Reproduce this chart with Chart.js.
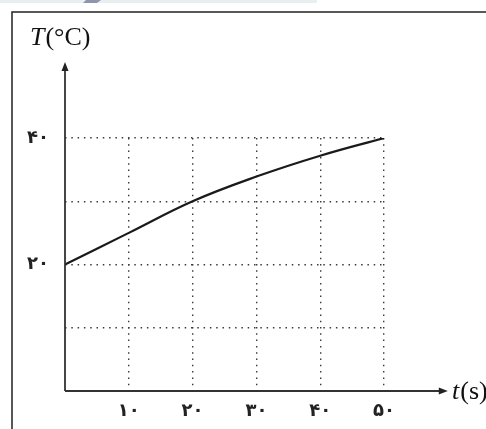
<!DOCTYPE html>
<html>
<head>
<meta charset="utf-8">
<script src="https://cdn.jsdelivr.net/npm/chart.js@4/dist/chart.umd.min.js"></script>
<style>
html, body { margin: 0; padding: 0; background: #fff; }
#wrap { position: relative; width: 486px; height: 429px; }
</style>
</head>
<body>
<div id="wrap"><canvas id="tempChart" width="486" height="429"></canvas></div>
<script>
// data
const timeValues = [0, 10, 20, 30, 40, 50];
const tempValues = [20, 25, 30, 33.9, 37.2, 40];
const xTickValues = [10, 20, 30, 40, 50];
const yLabelValues = [20, 40];
const xAxisEnd = 60;   // arrow tip, in t units
const yAxisEnd = 52;   // arrow tip, in T units
const xTitle = ['t', '(s)'];
const yTitle = ['T', '(°C)'];

const faDigits = '۰۱۲۳۴۵۶۷۸۹';
const toFa = n => String(n).replace(/[0-9]/g, d => faDigits[d]);

const gridColor = ctx => (ctx.tick && ctx.tick.value === 0) ? 'rgba(0,0,0,0)' : '#3a3a3a';

const axesPlugin = {
    id: 'axesPlugin',
    beforeDraw(chart) {
        const ctx = chart.ctx;
        ctx.save();
        // strip of the page above the figure
        ctx.fillStyle = '#e9eef0';
        ctx.fillRect(0, 0, 317, 3);
        ctx.fillStyle = '#8d96aa';
        ctx.beginPath();
        ctx.moveTo(86, 0); ctx.lineTo(101, 0); ctx.lineTo(97, 3); ctx.lineTo(83, 3);
        ctx.fill();
        // figure frame
        ctx.strokeStyle = '#222';
        ctx.lineWidth = 1.5;
        ctx.beginPath();
        ctx.moveTo(12, 429); ctx.lineTo(12, 12); ctx.lineTo(486, 12);
        ctx.stroke();
        ctx.restore();
    },
    afterDatasetsDraw(chart) {
        const ctx = chart.ctx;
        const xs = chart.scales.x, ys = chart.scales.y;
        const x0 = xs.getPixelForValue(0), y0 = ys.getPixelForValue(0);
        const xTip = xs.getPixelForValue(xAxisEnd), yTip = ys.getPixelForValue(yAxisEnd);
        ctx.save();
        ctx.strokeStyle = '#333';
        ctx.fillStyle = '#222';
        ctx.lineWidth = 1.8;
        ctx.beginPath();
        ctx.moveTo(x0, y0); ctx.lineTo(xTip - 6, y0);
        ctx.moveTo(x0, y0); ctx.lineTo(x0, yTip + 6);
        ctx.stroke();
        ctx.beginPath();
        ctx.moveTo(xTip, y0); ctx.lineTo(xTip - 9, y0 - 3.5); ctx.lineTo(xTip - 9, y0 + 3.5);
        ctx.closePath();
        ctx.moveTo(x0, yTip); ctx.lineTo(x0 - 3.5, yTip + 9); ctx.lineTo(x0 + 3.5, yTip + 9);
        ctx.closePath();
        ctx.fill();

        // axis titles
        const drawTitle = (parts, x, y) => {
            ctx.textAlign = 'left';
            ctx.textBaseline = 'alphabetic';
            ctx.fillStyle = '#111';
            ctx.font = 'italic 26px "Liberation Serif", "DejaVu Serif", serif';
            ctx.fillText(parts[0], x, y);
            const w = ctx.measureText(parts[0]).width;
            ctx.font = '26px "Liberation Serif", "DejaVu Serif", serif';
            ctx.fillText(parts[1], x + w + 1, y);
        };
        drawTitle(yTitle, 30, 45);
        drawTitle(xTitle, 452, 399);
        ctx.restore();
    }
};

const tickFont = { family: '"DejaVu Sans", sans-serif', size: 18, weight: 'bold' };

new Chart(document.getElementById('tempChart'), {
    type: 'line',
    data: {
        datasets: [{
            data: timeValues.map((t, i) => ({ x: t, y: tempValues[i] })),
            borderColor: '#1a1a1a',
            borderWidth: 2.2,
            pointRadius: 0,
            tension: 0.4,
            fill: false
        }]
    },
    options: {
        responsive: false,
        devicePixelRatio: 1,
        animation: false,
        layout: { padding: { left: 0, top: 138, right: 102, bottom: 0 } },
        plugins: { legend: { display: false }, tooltip: { enabled: false } },
        scales: {
            x: {
                type: 'linear',
                min: 0,
                max: 50,
                afterFit(scale) { scale.height = 38; },
                border: { display: false, dash: [1.5, 4.8] },
                grid: { color: gridColor, lineWidth: 1.4, drawTicks: false },
                ticks: {
                    stepSize: 10,
                    autoSkip: false,
                    maxRotation: 0,
                    padding: 10,
                    color: '#222',
                    font: tickFont,
                    callback: v => xTickValues.includes(v) ? toFa(v) : ''
                }
            },
            y: {
                type: 'linear',
                min: 0,
                max: 40,
                afterFit(scale) { scale.width = 65; },
                border: { display: false, dash: [1.5, 4.8] },
                grid: { color: gridColor, lineWidth: 1.4, drawTicks: false },
                ticks: {
                    stepSize: 10,
                    autoSkip: false,
                    padding: 16,
                    color: '#222',
                    font: tickFont,
                    callback: v => yLabelValues.includes(v) ? toFa(v) : ''
                }
            }
        }
    },
    plugins: [axesPlugin]
});
</script>
</body>
</html>
